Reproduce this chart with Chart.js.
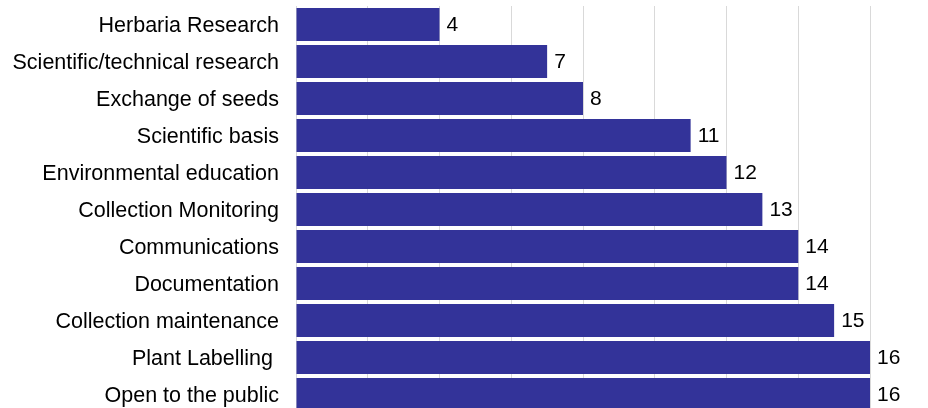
<!DOCTYPE html>
<html>
<head>
<meta charset="utf-8">
<script src="https://cdn.jsdelivr.net/npm/chart.js@4"></script>
<style>
	html, body { margin: 0; padding: 0; background: #fff; overflow: hidden; }
	#myChart { display: block; }
</style>
</head>
<body>
<canvas id="myChart" width="928" height="413"></canvas>
<script>
const categories = [
	"Herbaria Research",
	"Scientific/technical research",
	"Exchange of seeds",
	"Scientific basis",
	"Environmental education",
	"Collection Monitoring",
	"Communications",
	"Documentation",
	"Collection maintenance",
	"Plant Labelling ",
	"Open to the public",
];
const counts = [4, 7, 8, 11, 12, 13, 14, 14, 15, 16, 16];
const axisMax = 16;
const axisStep = 2;

const fontFamily = "'Liberation Sans', Arial, sans-serif";
const ctx = document.getElementById("myChart");

// writes each bar's value just past its end
const barValues = {
	id: "barValues",
	afterDatasetsDraw(chart) {
		const c = chart.ctx;
		const meta = chart.getDatasetMeta(0);
		c.save();
		c.font = "21px " + fontFamily;
		c.fillStyle = "#000";
		c.textAlign = "left";
		c.textBaseline = "middle";
		meta.data.forEach((bar, i) => {
			c.fillText(String(chart.data.datasets[0].data[i]), bar.x + 7, bar.y + 1);
		});
		c.restore();
	},
};

const myChart = new Chart(ctx, {
	type: "bar",
	data: {
		labels: categories,
		datasets: [
			{
				data: counts,
				backgroundColor: "#333399",
				borderWidth: 0,
				barPercentage: 0.89,
				categoryPercentage: 1,
			},
		],
	},
	options: {
		indexAxis: "y",
		responsive: false,
		animation: false,
		layout: {
			padding: { top: 6, right: 58, left: 0, bottom: 0 },
		},
		plugins: {
			legend: { display: false },
			tooltip: { enabled: false },
		},
		scales: {
			x: {
				min: 0,
				max: axisMax,
				ticks: { display: false, stepSize: axisStep },
				grid: { color: "#d9d9d9", lineWidth: 1, drawTicks: false },
				border: { display: false },
				afterFit(scale) {
					scale.paddingLeft = 0;
					scale.paddingRight = 0;
				},
			},
			y: {
				grid: { display: false, drawTicks: false },
				border: { display: false },
				ticks: {
					color: "#000",
					padding: 17,
					labelOffset: 2,
					font: { family: fontFamily, size: 21.5 },
				},
				afterFit(scale) {
					scale.width = 296;
					scale.paddingTop = 0;
					scale.paddingBottom = 0;
				},
			},
		},
	},
	plugins: [barValues],
});
</script>
</body>
</html>
